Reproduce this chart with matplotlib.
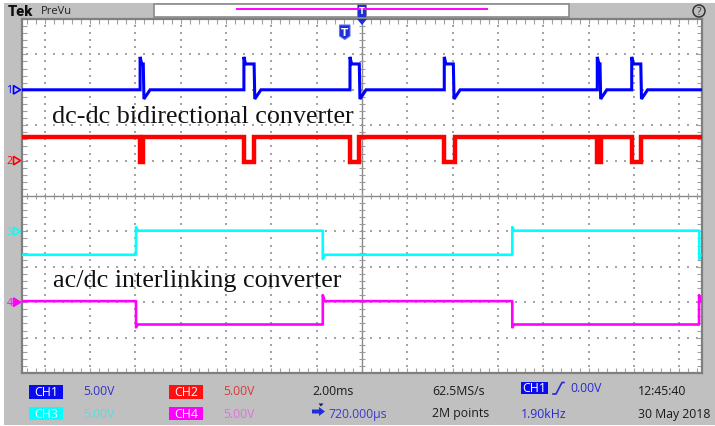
import numpy as np
import matplotlib.pyplot as plt
from matplotlib.patches import Rectangle, Polygon, Circle

W, H = 715, 427

# screen geometry (pixels) and scope scales
GRID_L, GRID_R, GRID_T, GRID_B = 22, 702, 20, 374
ms_span = 30.0            # 15 div x 2 ms/div
div_span = 10.0

# ground markers of the four channels (divisions from centre)
ch_offsets = [3.0, 1.0, -1.0, -3.0]
ch_colors = ['#0000ff', '#ff0000', '#00ffff', '#ff00ff']
ch_names = ['1', '2', '3', '4']

# CH1 - switch voltage of the dc-dc converter (ms / div)
ch1_rise = [5.21, 9.79, 14.47, 18.63, 25.38, 26.90]
ch1_fall = [5.35, 10.24, 14.88, 19.03, 25.50, 27.30]
ch1_base, ch1_peak, ch1_top, ch1_dip = 3.0, 3.93, 3.73, 2.74

# CH2 - complementary gate, low windows
ch2_low_start = [5.21, 9.81, 14.47, 18.63, 25.38, 26.90]
ch2_low_end = [5.33, 10.25, 14.88, 19.10, 25.53, 27.31]
ch2_high, ch2_low = 1.66, 0.95

# CH3 / CH4 - interlinking converter legs, edge times
ch3_edges = [5.03, 13.27, 21.63, 29.88]
ch3_low, ch3_high, ch3_over, ch3_under = -1.66, -0.98, -0.88, -1.78
ch4_edges = [5.03, 13.27, 21.63, 29.87]
ch4_low, ch4_high, ch4_over, ch4_under = -3.63, -2.97, -2.80, -3.71

t_start, t_end = 0.05, 29.93


def px_y(div):
    return GRID_T + (div_span / 2 - div) / div_span * (GRID_B - GRID_T)


def ch1_trace():
    t, v = [t_start], [ch1_base]
    for r, f in zip(ch1_rise, ch1_fall):
        t += [r, r, r + 0.07, f, f + 0.03, f + 0.3]
        v += [ch1_base, ch1_peak, ch1_top, ch1_top, ch1_dip, ch1_base]
    t.append(t_end)
    v.append(ch1_base)
    return t, v


def ch2_trace():
    t, v = [t_start], [ch2_high]
    for a, b in zip(ch2_low_start, ch2_low_end):
        t += [a, a, b, b]
        v += [ch2_high, ch2_low, ch2_low, ch2_high]
    t.append(t_end)
    v.append(ch2_high)
    return t, v


def step_trace(edges, low, high, over, under, start_high):
    level = high if start_high else low
    t, v = [t_start], [level]
    for e in edges:
        t += [e, e, min(e + 0.08, t_end)]
        if level == low:
            v += [low, over, high]
            level = high
        else:
            v += [high, under, low]
            level = low
    t.append(t_end)
    v.append(level)
    return t, v


fig = plt.figure(figsize=(W / 100, H / 100), dpi=100, facecolor='white')

# instrument frame
bg = fig.add_axes([0, 0, 1, 1])
bg.set_xlim(0, W)
bg.set_ylim(H, 0)
bg.axis('off')
bg.add_patch(Rectangle((4, 4), W - 4, H - 5, color='#c0c0c0', lw=0))

# graticule
ax = fig.add_axes([GRID_L / W, (H - GRID_B) / H, (GRID_R - GRID_L) / W, (GRID_B - GRID_T) / H])
ax.set_facecolor('white')
ax.set_xlim(0, ms_span)
ax.set_ylim(-div_span / 2, div_span / 2)
for s in ax.spines.values():
    s.set_color('#7f7f7f')
    s.set_linewidth(1.6)

minor_x = np.arange(0.2, ms_span, 0.4)
minor_y = np.arange(-4.8, 4.81, 0.2)
ax.set_xticks(minor_x)
ax.set_yticks(minor_y)
ax.tick_params(direction='in', length=3.5, width=0.8, color='#a0a0a0',
               top=True, right=True, labelbottom=False, labelleft=False)

vx = [x for x in np.arange(1, ms_span, 2) if x != 15]
hy = [y for y in range(-4, 5) if y != 0]
gx, gy = np.meshgrid(vx, minor_y)
ax.scatter(gx.ravel(), gy.ravel(), s=1.3, marker='s', color='#a4a4a4', lw=0)
gx, gy = np.meshgrid(minor_x, hy)
ax.scatter(gx.ravel(), gy.ravel(), s=1.3, marker='s', color='#a4a4a4', lw=0)

ax.axvline(15, color='#8a8a8a', lw=1)
ax.axhline(0, color='#8a8a8a', lw=1)
ax.plot(np.full_like(minor_y, 15), minor_y, ls='none', marker='_', ms=4, mew=0.8, color='#9a9a9a')
ax.plot(minor_x, np.zeros_like(minor_x), ls='none', marker='|', ms=4, mew=0.8, color='#9a9a9a')

# waveforms
t, v = ch1_trace()
ax.plot(t, v, color=ch_colors[0], lw=2.2, solid_joinstyle='miter', zorder=5)
t, v = ch2_trace()
ax.plot(t, v, color=ch_colors[1], lw=3.2, solid_joinstyle='miter', zorder=5)
t, v = step_trace(ch3_edges, ch3_low, ch3_high, ch3_over, ch3_under, False)
ax.plot(t, v, color=ch_colors[2], lw=1.9, zorder=5)
t, v = step_trace(ch4_edges, ch4_low, ch4_high, ch4_over, ch4_under, True)
ax.plot(t, v, color=ch_colors[3], lw=1.9, zorder=5)

serif = dict(family='Liberation Serif', fontsize=18.8, color='#111111', va='baseline', zorder=6)
ax.text(1.32, 2.08, 'dc-dc bidirectional converter', **serif)
ax.text(1.37, -2.55, 'ac/dc interlinking converter', **serif)

# overlay for markers and icons
ov = fig.add_axes([0, 0, 1, 1])
ov.set_xlim(0, W)
ov.set_ylim(H, 0)
ov.axis('off')
ov.patch.set_visible(False)

for name, off, col in zip(ch_names, ch_offsets, ch_colors):
    y = px_y(off)
    filled = name == '4'
    ov.add_patch(Polygon([(13.5, y - 4.2), (13.5, y + 4.2), (20.5, y)], closed=True,
                         facecolor=col if filled else 'none', edgecolor=col, lw=1.2))
    ov.text(9.5, y, name, color=col, fontsize=7.5, family='Open Sans',
            ha='center', va='center', alpha=0.8 if name == '3' else 1)

blue_icon = '#1f2fd8'
ov.add_patch(Polygon([(339.5, 26), (350, 26), (350, 37), (344.75, 40.5), (339.5, 37)],
                     closed=True, facecolor=blue_icon, edgecolor='#6070ff', lw=0.8))
ov.text(344.75, 32.5, 'T', color='white', fontsize=7.5, fontweight='bold',
        ha='center', va='center', family='DejaVu Sans')
ov.add_patch(Polygon([(357, 20), (367, 20), (362, 26)], closed=True, color=blue_icon, lw=0))

# header bar
bg.text(8, 12, 'Tek', fontsize=10.5, fontweight='heavy', family='Roboto',
        color='#111111', ha='left', va='center')
bg.text(41, 12, 'PreVu', fontsize=8, family='Open Sans', color='#222222', ha='left', va='center')
bg.add_patch(Rectangle((154, 5), 415, 12.5, facecolor='white', edgecolor='#8a8a8a', lw=1.2))
bg.plot([237, 487], [10.3, 10.3], color='#ff00ff', lw=1.4)
bg.add_patch(Rectangle((357, 5), 9, 12.5, facecolor=blue_icon, edgecolor='#8a8a8a', lw=0.6))
bg.text(361.5, 11, 'T', color='white', fontsize=6, fontweight='bold',
        ha='center', va='center', family='DejaVu Sans')
bg.add_patch(Circle((699, 12), 6, facecolor='none', edgecolor='#333333', lw=1.1))
bg.text(699, 12.3, '?', color='#333333', fontsize=7.5, ha='center', va='center', family='Open Sans')

# readout panel
sans = dict(family='Open Sans', fontsize=8.8, va='center', ha='left')
badges = [('CH1', 29, 386, '#0a0aee'), ('CH2', 169, 386, '#ff1010'),
          ('CH3', 29, 407.5, '#00ffff'), ('CH4', 169, 407.5, '#ff00ff')]
for label, x, y, col in badges:
    bg.add_patch(Rectangle((x, y), 34, 13.5, color=col, lw=0))
    bg.text(x + 17, y + 6.9, label, color='white', **{**sans, 'ha': 'center'})

bg.text(83, 391.5, '5.00V', color='#3232c8', **sans)
bg.text(223, 391.5, '5.00V', color='#d83a3a', **sans)
bg.text(83, 414.5, '5.00V', color='#50e0e0', **sans)
bg.text(223, 414.5, '5.00V', color='#e070e0', **sans)
bg.text(312, 391.5, '2.00ms', color='#1a1a1a', **sans)
bg.text(432, 391.5, '62.5MS/s', color='#1a1a1a', **sans)
bg.text(638, 391.5, '12:45:40', color='#1a1a1a', **sans)
bg.text(432, 414, '2M points', color='#1a1a1a', **sans)
bg.text(521, 414.5, '1.90kHz', color='#2a2ad0', **sans)
bg.text(638, 414.5, '30 May 2018', color='#1a1a1a', **sans)
bg.text(328, 414.5, '720.000\u00b5s', color='#3a3ad0', **sans)

bg.add_patch(Rectangle((520.5, 382.5), 27, 12.5, color='#0a0aee', lw=0))
bg.text(534, 389, 'CH1', color='white', **{**sans, 'ha': 'center'})
bg.plot([553, 556, 562, 564], [395, 395, 383.5, 383.5], color='#2a2ad0', lw=1.2)
bg.text(570, 389, '0.00V', color='#2a2ad0', **sans)

bg.add_patch(Polygon([(312, 410.5), (319, 410.5), (319, 408), (325, 412.5),
                      (319, 417), (319, 414.5), (312, 414.5)], closed=True, color='#1f2fd8', lw=0))
bg.add_patch(Polygon([(318.5, 404.5), (323.5, 404.5), (321, 407.5)], closed=True, color='#1a1a60', lw=0))

fig.savefig('out.png', dpi=100, facecolor='white')
